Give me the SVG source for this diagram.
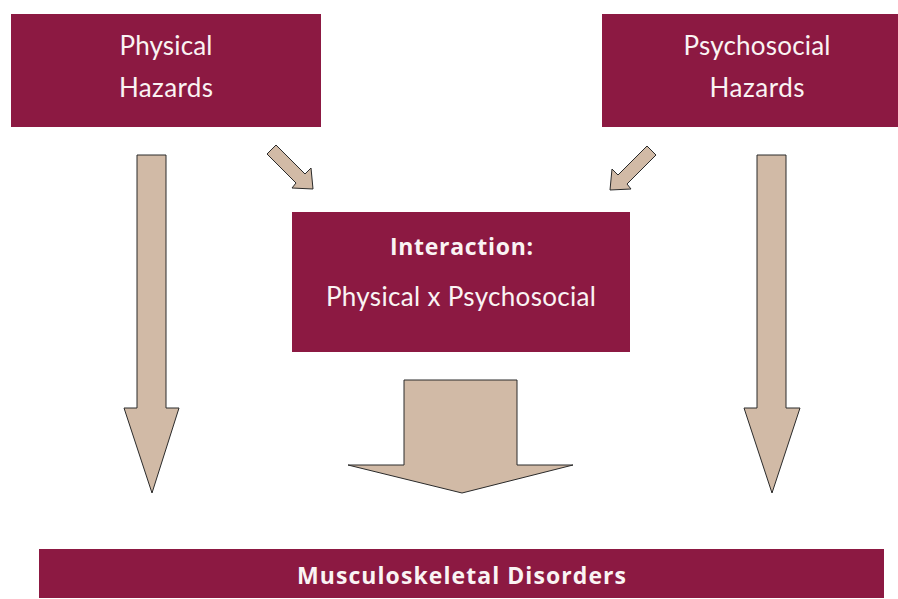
<svg xmlns="http://www.w3.org/2000/svg" width="898" height="599" viewBox="0 0 898 599">
<style>
.box{fill:#8C1942}
.t{fill:#FAF3F3;font-family:Lato,"Liberation Sans",sans-serif;font-size:26px;text-anchor:middle}
.b{font-family:"Open Sans",Lato,sans-serif;font-weight:bold;font-size:23px}
.arr{fill:#D1BAA6;stroke:#2a2a2a;stroke-width:1;stroke-linejoin:miter}
</style>
<rect width="898" height="599" fill="#fff"/>
<g id="physical">
<rect class="box" x="11" y="14" width="310" height="113"/>
<text class="t" x="166" y="55" textLength="93">Physical</text>
<text class="t" x="166" y="97" textLength="94">Hazards</text>
</g>
<g id="psychosocial">
<rect class="box" x="602" y="14" width="296" height="113"/>
<text class="t" x="757" y="55" textLength="147">Psychosocial</text>
<text class="t" x="757" y="97" textLength="95">Hazards</text>
</g>
<g id="interaction">
<rect class="box" x="292" y="212" width="338" height="140"/>
<text class="t b" x="461.5" y="255" textLength="143">Interaction:</text>
<text class="t" x="461" y="306" textLength="270">Physical x Psychosocial</text>
</g>
<g id="msd">
<rect class="box" x="39" y="549" width="845" height="49"/>
<text class="t b" x="461.5" y="584" font-size="22" textLength="329">Musculoskeletal Disorders</text>
</g>
<g id="connectors">
<polygon class="arr" points="137,155 166,155 166,408 179,408 152,493 124,408 137,408"/>
<polygon class="arr" points="757,155 786,155 786,408 800,408 772,493 744,408 757,408"/>
<polygon class="arr" points="404,380 517,380 517,465 573,465 462,493 348,465 404,465"/>
<polygon class="arr" points="276,145 305,174 311,168 313,189 292,188 296,183 267,154"/>
<polygon class="arr" points="647,146 618,175 612,169 610,190 631,189 627,184 656,155"/>
</g>
</svg>
